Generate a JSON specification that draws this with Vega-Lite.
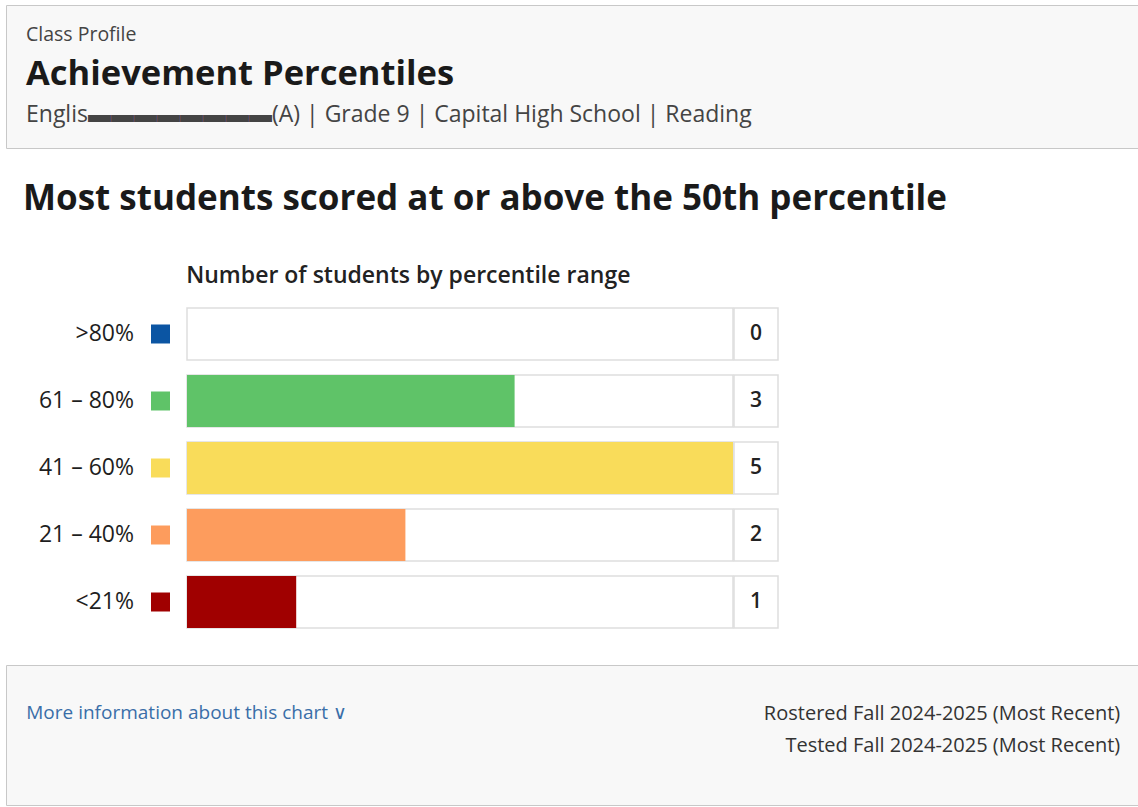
{
  "$schema": "https://vega.github.io/schema/vega-lite/v6.json",
  "background": "white",
  "padding": {"left": 5, "top": 4, "right": 0, "bottom": 0},
  "config": {"font": "Open Sans", "view": {"stroke": null}},
  "spacing": 33,
  "vconcat": [
    {
      "width": 1133,
      "height": 143,
      "view": {"fill": "#f8f8f8", "stroke": "#c8c8c8"},
      "data": {"values": [
        {"role": "eyebrow", "line": "Class Profile"},
        {"role": "heading", "line": "Achievement Percentiles"},
        {"role": "meta", "line": "Englis▬▬▬▬▬▬▬▬(A) | Grade 9 | Capital High School | Reading"}
      ]},
      "encoding": {
        "y": {"field": "role", "type": "nominal", "scale": {"type": "point", "domain": ["eyebrow", "heading", "meta"], "padding": 0.7875, "align": 0.476}, "axis": null},
        "x": {"datum": 0, "type": "quantitative", "scale": {"domain": [0, 1]}, "axis": null},
        "text": {"field": "line"}
      },
      "layer": [
        {"transform": [{"filter": "datum.role === 'eyebrow'"}], "mark": {"type": "text", "align": "left", "baseline": "middle", "dx": 20, "fontSize": 19.5, "color": "#444444"}},
        {"transform": [{"filter": "datum.role === 'heading'"}], "mark": {"type": "text", "align": "left", "baseline": "middle", "dx": 20, "fontSize": 34.5, "fontWeight": "bold", "color": "#1a1a1a"}},
        {"transform": [{"filter": "datum.role === 'meta'"}], "mark": {"type": "text", "align": "left", "baseline": "middle", "dx": 20, "fontSize": 23, "color": "#444444"}}
      ]
    },
    {
      "spacing": 35,
      "vconcat": [
        {
          "title": {"text": "Most students scored at or above the 50th percentile", "anchor": "start", "fontSize": 35, "fontWeight": "bold", "color": "#1a1a1a", "dx": 17, "offset": 48},
          "data": {"values": [
            {"range": ">80%", "students": 0},
            {"range": "61 – 80%", "students": 3},
            {"range": "41 – 60%", "students": 5},
            {"range": "21 – 40%", "students": 2},
            {"range": "<21%", "students": 1}
          ]},
          "spacing": -1.5,
          "hconcat": [
            {
              "width": 128,
              "height": 320,
              "mark": {"type": "text", "align": "right", "baseline": "middle", "fontSize": 23, "color": "#1e1e1e"},
              "encoding": {
                "y": {"field": "range", "type": "nominal", "sort": null,
                  "scale": {"type": "band", "domain": [">80%", "61 – 80%", "41 – 60%", "21 – 40%", "<21%"], "paddingInner": 0.224, "paddingOuter": 0},
                  "axis": null},
                "x": {"value": "width"},
                "text": {"field": "range"}
              }
            },
            {
              "width": 53,
              "height": 320,
              "mark": {"type": "square", "size": 361, "opacity": 1, "filled": true},
              "encoding": {
                "y": {"field": "range", "type": "nominal", "sort": null,
                  "scale": {"type": "band", "domain": [">80%", "61 – 80%", "41 – 60%", "21 – 40%", "<21%"], "paddingInner": 0.224, "paddingOuter": 0},
                  "axis": null},
                "color": {"field": "range", "type": "nominal",
                  "scale": {"domain": [">80%", "61 – 80%", "41 – 60%", "21 – 40%", "<21%"], "range": ["#0b55a3", "#5fc368", "#f9dc5a", "#fd9c5d", "#a00000"]},
                  "legend": null}
              }
            },
            {
              "width": 546,
              "height": 320,
              "title": {"text": "Number of students by percentile range", "anchor": "start", "fontSize": 23, "fontWeight": 600, "color": "#222222", "offset": 19},
              "encoding": {
                "y": {"field": "range", "type": "nominal", "sort": null,
                  "scale": {"type": "band", "domain": [">80%", "61 – 80%", "41 – 60%", "21 – 40%", "<21%"], "paddingInner": 0.224, "paddingOuter": 0},
                  "axis": null}
              },
              "layer": [
                {
                  "mark": {"type": "bar", "fill": "white", "stroke": "#dedede", "strokeWidth": 1.5},
                  "encoding": {
                    "x": {"datum": 0, "type": "quantitative", "scale": {"domain": [0, 5]}, "axis": null},
                    "x2": {"datum": 5}
                  }
                },
                {
                  "mark": {"type": "bar", "opacity": 1},
                  "encoding": {
                    "x": {"field": "students", "type": "quantitative", "scale": {"domain": [0, 5]}, "axis": null},
                    "color": {"field": "range", "type": "nominal",
                      "scale": {"domain": [">80%", "61 – 80%", "41 – 60%", "21 – 40%", "<21%"], "range": ["#0b55a3", "#5fc368", "#f9dc5a", "#fd9c5d", "#a00000"]},
                      "legend": null}
                  }
                }
              ]
            },
            {
              "width": 44,
              "height": 320,
              "encoding": {
                "y": {"field": "range", "type": "nominal", "sort": null,
                  "scale": {"type": "band", "domain": [">80%", "61 – 80%", "41 – 60%", "21 – 40%", "<21%"], "paddingInner": 0.224, "paddingOuter": 0},
                  "axis": null}
              },
              "layer": [
                {"mark": {"type": "rect", "fill": "white", "stroke": "#dedede", "strokeWidth": 1.5}},
                {"mark": {"type": "text", "fontSize": 21, "fontWeight": 600, "color": "#222222", "baseline": "middle"}, "encoding": {"text": {"field": "students", "type": "quantitative"}}}
              ]
            }
          ]
        },
        {
          "width": 1133,
          "height": 140,
          "view": {"fill": "#f8f8f8", "stroke": "#c8c8c8"},
          "data": {"values": [
            {"side": "left", "block": "notes", "line": ["More information about this chart  ∨"]},
            {"side": "right", "block": "notes", "line": ["Rostered Fall 2024-2025 (Most Recent)", "Tested Fall 2024-2025 (Most Recent)"]}
          ]},
          "encoding": {
            "x": {"field": "side", "type": "nominal", "scale": {"type": "point", "domain": ["left", "right"], "padding": 0.01783, "align": 0.52}, "axis": null},
            "y": {"field": "block", "type": "nominal", "scale": {"type": "point", "domain": ["notes"], "padding": 0.5, "align": 0.276}, "axis": null},
            "text": {"field": "line"}
          },
          "layer": [
            {"transform": [{"filter": "datum.side === 'left'"}], "mark": {"type": "text", "align": "left", "baseline": "top", "fontSize": 19, "lineHeight": 32, "color": "#3a6ea8"}},
            {"transform": [{"filter": "datum.side === 'right'"}], "mark": {"type": "text", "align": "right", "baseline": "top", "fontSize": 20, "lineHeight": 32, "color": "#333333"}}
          ]
        }
      ]
    }
  ]
}
